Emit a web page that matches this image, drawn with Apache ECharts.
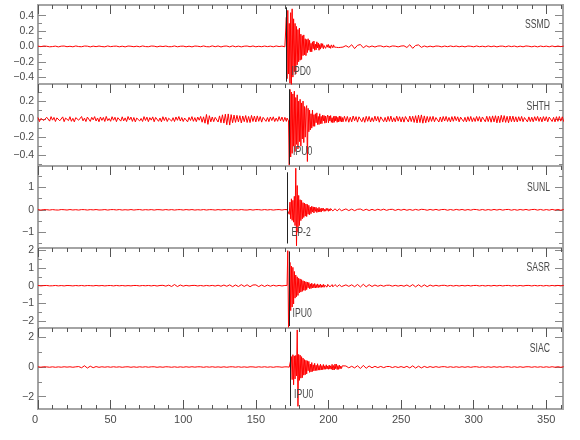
<!DOCTYPE html>
<html><head><meta charset="utf-8">
<script src="https://cdn.jsdelivr.net/npm/echarts@6/dist/echarts.min.js"></script>
<style>html,body{margin:0;padding:0;background:#fff}#c{width:580px;height:440px}</style>
</head><body><div id="c"></div>
<script>
// ---------------- data ----------------
const stations = ['SSMD','SHTH','SUNL','SASR','SIAC'];
const phases   = ['IPD0','IPU0','EP-2','IPU0','IPU0'];
const pickTimes = [170.8, 172.8, 171.7, 172.8, 174.0];
const yMins = [-0.49, -0.52, -1.70, -2.38, -2.83];
const yMaxs = [ 0.54,  0.39,  1.95,  2.12,  2.63];
const yMajorTicks = [[-0.4,-0.2,0,0.2,0.4],[-0.4,-0.2,0,0.2],[-1,0,1],[-2,-1,0,1,2],[-2,0,2]];
const yMinorTicks = [[-0.3,-0.1,0.1,0.3],[-0.5,-0.3,-0.1,0.1,0.3],[-1.5,-0.5,0.5,1.5],[-1.5,-0.5,0.5,1.5],[-1,1]];
const xMajorTicks = [0,50,100,150,200,250,300,350];
const xMinorTicks = [0,10,20,30,40,50,60,70,80,90,100,110,120,130,140,150,160,170,180,190,200,210,220,230,240,250,260,270,280,290,300,310,320,330,340,350,360];

// SSMD  (quiet: t=0..170 step 2; event: t=170.5..210 step 0.5; coda: t=212..362 step 2)
const ssmdQuiet = [0.004,-0.003,0.005,0.002,-0.005,-0.002,0.004,-0.006,0.003,0.005,
-0.004,0.002,-0.005,0.006,-0.002,-0.004,0.005,0.003,-0.006,0.004,
-0.003,0.005,-0.002,-0.005,0.006,-0.003,0.002,0.004,-0.005,0.003,
-0.006,0.005,0.002,-0.004,0.003,-0.005,0.006,-0.002,-0.004,0.005,
0.003,-0.006,0.004,-0.002,0.005,-0.004,-0.003,0.006,-0.005,0.002,
0.004,-0.005,0.003,-0.006,0.005,0.002,-0.004,0.006,-0.003,-0.005,
0.007,-0.004,0.006,-0.007,0.003,0.005,-0.006,0.007,-0.005,0.004,
-0.006,0.003,0.005,-0.004,0.006,-0.005,0.002,-0.004,0.005,-0.003,
0.004,-0.005,0.006,-0.002,0.004,-0.005];
const ssmdEvent = [0.01,0.38,-0.42,0.47,-0.36,0.3,-0.48,0.44,-0.5,0.49,
-0.4,0.36,-0.33,0.3,-0.36,0.26,-0.24,0.22,-0.2,0.24,
-0.18,0.16,-0.17,0.14,-0.12,0.15,-0.11,0.1,-0.12,0.09,
-0.08,0.1,-0.05,0.08,-0.07,0.04,-0.07,0.06,-0.03,0.07,
-0.05,0.03,-0.045,0.06,-0.02,0.045,-0.05,0.025,-0.035,0.04,
-0.015,0.035,-0.03,0.012,0.03,-0.025,-0.03,0.022,-0.01,0.025,
-0.02,0.008,-0.025,0.02,0.012,-0.018,0.02,-0.008,-0.016,0.015,
-0.012,0.006,0.014,-0.015,0.01,-0.006,-0.012,0.01,0.004,-0.009];
const ssmdCoda = [0.01,-0.012,0.022,-0.028,0.014,0.025,-0.018,0.01,-0.009,0.006,
-0.008,0.005,0.007,-0.006,0.004,-0.007,0.006,0.003,-0.006,0.005,
0.008,-0.014,0.022,-0.025,0.012,0.02,-0.012,0.006,-0.007,0.004,
-0.006,0.005,0.003,-0.006,0.005,-0.004,0.006,-0.003,0.005,-0.005,
0.004,-0.006,0.005,0.002,-0.005,0.006,-0.004,0.003,-0.005,0.006,
-0.004,0.005,-0.006,0.003,0.004,-0.005,0.006,-0.003,0.005,-0.006,
0.004,-0.005,0.006,0.002,-0.005,0.004,-0.006,0.005,-0.003,0.004,
-0.005,0.006,-0.004,0.005,-0.003,0.004];

// SHTH  (quiet: t=0..170 step 1; event: t=170.5..210 step 0.5; coda: t=211..362 step 1)
const shthQuiet = [0.018,-0.027,0.008,0.024,-0.015,-0.029,0.021,0.006,-0.022,0.028,
-0.011,0.019,-0.026,0.014,0.03,-0.018,-0.007,0.025,-0.028,0.012,
0.022,-0.016,0.027,-0.024,0.009,-0.03,0.017,0.026,-0.012,-0.023,
0.029,-0.019,0.011,-0.027,0.023,0.015,-0.025,0.02,-0.008,0.028,
-0.021,0.013,-0.029,0.024,-0.014,0.019,-0.026,0.03,-0.017,0.007,
-0.024,0.027,-0.012,0.021,-0.028,0.016,0.009,-0.022,0.026,-0.019,
0.014,-0.027,0.029,-0.01,0.023,-0.025,0.018,-0.03,0.012,0.026,
-0.02,0.008,-0.026,0.028,-0.015,0.022,-0.028,0.017,-0.011,0.025,
-0.029,0.019,0.032,-0.024,0.013,-0.03,0.027,-0.016,0.021,-0.026,
0.01,0.028,-0.022,0.016,-0.027,0.024,-0.013,0.029,-0.021,0.018,
-0.026,0.012,0.025,-0.03,0.02,-0.015,0.028,-0.024,0.017,-0.028,
0.023,-0.012,0.03,-0.034,0.026,-0.045,0.052,-0.058,0.038,-0.03,
0.024,-0.028,0.02,0.03,-0.032,0.036,-0.04,0.048,-0.044,0.055,
-0.062,0.058,-0.066,0.05,-0.04,0.045,-0.036,0.042,-0.03,0.038,
-0.042,0.035,-0.028,0.04,-0.037,0.03,-0.038,0.041,-0.026,0.034,
-0.031,0.036,-0.024,0.029,-0.033,0.02,0.027,-0.025,0.018,-0.028,
0.024,-0.016,0.026,-0.027,0.012,-0.024,0.028,-0.019,0.023,-0.027,
0.02];
const shthEvent = [0.02,-0.025,0.012,0.022,-0.02,-0.51,0.33,-0.42,0.3,-0.38,
0.28,-0.3,0.31,-0.36,0.24,-0.28,0.27,-0.33,0.2,-0.25,
0.22,-0.3,0.18,-0.22,0.2,-0.26,0.14,-0.2,0.12,0.15,
-0.47,0.12,-0.14,0.1,-0.12,0.06,-0.1,0.1,-0.08,0.05,
-0.08,0.06,-0.04,0.07,-0.06,0.03,-0.06,0.06,-0.05,0.03,
-0.05,0.045,-0.02,0.04,-0.045,0.035,-0.04,0.02,0.045,-0.04,
0.035,-0.02,0.04,-0.035,0.015,-0.04,0.03,-0.035,0.035,-0.02,
0.03,-0.035,0.02,-0.03,0.035,-0.025,0.03,-0.03,0.018,-0.03];
const shthCoda = [0.032,-0.026,0.03,-0.034,0.021,-0.03,0.035,-0.018,0.028,-0.033,
0.026,0.034,-0.029,0.02,-0.035,0.031,-0.024,0.03,-0.032,0.017,
-0.027,0.033,-0.021,0.029,-0.034,0.025,0.031,-0.028,0.019,-0.032,
0.03,-0.024,0.034,-0.03,0.016,-0.029,0.033,-0.022,0.027,-0.031,
0.025,-0.033,0.029,0.02,-0.031,0.034,-0.027,0.032,-0.036,0.038,
-0.042,0.044,-0.038,0.047,-0.045,0.036,-0.04,0.03,-0.033,0.028,
-0.025,0.031,-0.029,0.018,0.027,-0.032,0.024,-0.03,0.029,-0.021,
0.03,-0.026,0.019,-0.031,0.028,-0.024,0.031,-0.017,0.026,-0.03,
0.022,0.029,-0.027,0.02,-0.031,0.027,-0.023,0.03,-0.028,0.016,
-0.026,0.03,-0.022,0.028,-0.031,0.024,0.019,-0.029,0.032,-0.027,
0.03,-0.034,0.036,-0.03,0.038,-0.041,0.035,-0.039,0.042,-0.033,
0.039,-0.036,0.031,-0.04,0.034,-0.028,0.033,-0.03,0.026,-0.031,
0.027,-0.022,0.03,-0.028,0.018,0.026,-0.03,0.025,-0.027,0.021,
-0.029,0.027,-0.018,0.03,-0.025,0.022,-0.03,0.028,-0.02,0.027,
-0.029,0.023,0.028,-0.026,0.02,-0.03,0.027,-0.024,0.029,-0.022,
0.026,-0.028];

// SUNL
const sunlQuiet = [0.008,-0.012,0.01,0.005,-0.011,0.009,-0.006,-0.012,0.011,0.004,
-0.01,0.012,-0.008,0.006,-0.012,0.01,0.007,-0.011,0.009,-0.005,
0.012,-0.009,-0.004,0.011,-0.012,0.008,0.01,-0.007,0.012,-0.011,
0.005,-0.009,0.012,-0.01,0.006,0.011,-0.012,0.008,-0.006,0.01,
-0.012,0.009,0.004,-0.011,0.012,-0.008,0.01,-0.012,0.006,0.009,
-0.01,0.012,-0.007,0.011,-0.012,0.005,-0.009,0.012,-0.01,0.008,
0.006,-0.012,0.01,-0.009,0.012,-0.005,0.011,-0.012,0.008,-0.01,
0.012,-0.006,-0.01,0.011,-0.012,0.009,0.007,-0.011,0.012,-0.008,
0.01,-0.012,0.006,0.011,-0.01,0.012];
const sunlEvent = [0.01,-0.012,0.008,-0.01,0.012,-0.2,0.34,-0.4,0.49,-0.47,
0.42,-0.55,0.6,-0.7,1.85,-1.6,1.08,-1.0,0.64,-0.7,
0.45,-0.48,0.42,-0.4,0.32,-0.34,0.3,-0.28,0.26,-0.3,
0.24,-0.2,0.2,-0.22,0.12,-0.17,0.16,-0.1,0.13,-0.14,
0.12,-0.07,0.11,-0.12,0.06,-0.1,0.11,-0.09,0.05,-0.1,
0.08,-0.04,0.07,-0.07,0.03,-0.06,0.065,-0.03,0.06,-0.065,
0.04,-0.05,0.055,-0.02,0.05,-0.05,0.03,-0.045,0.045,-0.02,
0.04,-0.045,0.02,-0.04,0.04,-0.015,0.035,-0.04,0.025,-0.035];
const sunlCoda = [0.04,-0.035,0.03,-0.038,0.022,0.034,-0.03,0.026,-0.032,0.02,
-0.028,0.025,-0.018,0.027,-0.024,0.015,0.022,-0.026,0.02,-0.017,
0.023,-0.02,0.014,-0.022,0.019,-0.016,0.021,0.012,-0.02,0.017,
-0.015,0.019,-0.018,0.012,0.016,-0.019,0.014,-0.017,0.018,-0.011,
0.016,-0.018,0.013,-0.016,0.018,0.01,-0.017,0.015,-0.018,0.012,
-0.016,0.017,-0.012,0.018,-0.015,0.011,0.016,-0.017,0.013,-0.018,
0.015,-0.012,0.017,-0.016,0.011,0.018,-0.014,0.016,-0.017,0.012,
-0.016,0.018,-0.013,0.015,-0.017,0.014];

// SASR
const sasrQuiet = [0.01,-0.013,0.006,0.012,-0.01,-0.005,0.013,-0.011,0.008,-0.013,
0.012,0.005,-0.012,0.01,-0.007,0.013,-0.012,0.009,0.004,-0.011,
0.013,-0.009,0.011,-0.013,0.006,0.01,-0.012,0.013,-0.008,0.011,
-0.013,0.007,-0.01,0.012,0.009,-0.013,0.011,-0.006,0.013,-0.012,
0.015,-0.018,0.012,0.02,-0.024,0.03,-0.045,0.065,-0.05,0.038,
-0.025,0.018,-0.014,0.012,0.016,-0.015,0.013,-0.018,0.014,-0.012,
0.016,-0.02,0.024,-0.03,0.036,-0.032,0.045,-0.055,0.04,-0.05,
0.058,-0.042,0.05,-0.06,0.038,0.046,-0.052,0.04,-0.044,0.034,
-0.03,0.026,-0.02,0.016,-0.014,0.012];
const sasrEvent = [0.01,-0.01,0.012,1.97,-2.34,-0.8,1.31,-1.4,1.1,-1.2,
1.03,-1.03,0.8,-0.7,0.6,-0.62,0.5,-0.55,0.42,-0.4,
0.38,-0.36,0.34,-0.32,0.28,-0.26,0.25,-0.27,0.22,-0.22,
0.2,-0.12,0.18,-0.17,0.1,-0.16,0.14,-0.13,0.08,-0.12,
0.12,-0.13,0.06,-0.11,0.1,-0.11,0.05,-0.09,0.09,-0.1,
0.04,-0.08,0.08,-0.09,0.03,-0.08,0.07,-0.08,0.075,-0.03,
0.07,-0.07,0.025,-0.07,0.06,-0.065,0.03,-0.06,0.06,-0.02,
0.055,-0.055,0.02,-0.055,0.05,-0.05,0.02,-0.05,0.045,-0.05];
const sasrCoda = [0.045,-0.038,0.05,-0.06,0.068,-0.075,0.08,-0.065,0.058,-0.045,
0.038,-0.032,0.028,-0.03,0.022,0.026,-0.027,0.021,-0.024,0.02,
-0.03,0.038,-0.05,0.06,-0.066,0.052,-0.062,0.048,-0.055,0.036,
-0.028,0.022,-0.02,0.017,0.021,-0.019,0.016,-0.02,0.015,-0.018,
0.016,-0.014,0.018,-0.016,0.012,0.015,-0.017,0.014,-0.016,0.012,
-0.015,0.016,-0.012,0.017,-0.014,0.011,0.015,-0.016,0.013,-0.015,
0.014,-0.016,0.012,0.015,-0.014,0.016,-0.011,0.014,-0.016,0.013,
-0.014,0.015,-0.012,0.016,-0.013,0.014];

// SIAC
const siacQuiet = [0.015,-0.012,0.018,0.007,-0.016,0.013,-0.018,0.01,-0.014,0.017,
-0.008,0.015,-0.016,0.012,0.03,-0.05,0.085,-0.07,0.055,-0.045,
0.03,-0.02,0.016,-0.012,0.017,-0.015,0.018,-0.011,0.014,-0.018,
0.009,0.016,-0.017,0.013,-0.018,0.015,-0.01,0.018,-0.014,0.012,
0.016,-0.018,0.011,-0.015,0.018,0.008,-0.016,0.014,-0.018,0.012,
-0.015,0.017,-0.012,0.018,-0.009,0.015,0.013,-0.018,0.016,-0.011,
0.018,-0.014,0.01,-0.017,0.015,-0.018,0.012,0.016,-0.013,0.018,
-0.016,0.011,-0.018,0.014,0.009,-0.017,0.016,-0.012,0.018,-0.015,
0.013,-0.018,0.016,0.01,-0.014,0.012];
const siacEvent = [0.01,-0.012,0.01,-0.01,0.012,-0.01,0.01,-0.015,0.7,-0.85,
0.83,-1.2,0.75,-0.8,0.78,-0.6,2.5,-2.65,0.85,-0.9,
0.8,-0.75,0.7,-0.72,0.6,-0.55,0.5,-0.52,0.45,-0.46,
0.42,-0.25,0.38,-0.36,0.2,-0.33,0.3,-0.3,0.15,-0.26,
0.25,-0.24,0.12,-0.24,0.22,-0.21,0.1,-0.21,0.19,-0.2,
0.09,-0.18,0.17,-0.16,0.08,-0.15,0.15,-0.14,0.07,-0.15,
0.13,-0.14,0.08,-0.15,0.18,-0.2,0.1,-0.2,0.2,-0.12,
0.19,-0.17,0.09,-0.16,0.13,-0.12,0.06,-0.1,0.08,-0.05];
const siacCoda = [0.07,-0.055,0.05,-0.06,0.085,-0.1,0.11,-0.085,0.07,-0.05,
0.045,-0.038,0.04,-0.042,0.03,0.036,-0.035,0.028,-0.032,0.03,
-0.035,0.045,-0.06,0.08,-0.07,0.055,-0.06,0.042,-0.035,0.03,
-0.028,0.025,-0.022,0.018,0.024,-0.021,0.02,-0.023,0.017,-0.022,
0.02,-0.018,0.022,-0.02,0.015,0.019,-0.021,0.018,-0.02,0.016,
-0.019,0.021,-0.016,0.02,-0.018,0.014,0.019,-0.02,0.017,-0.021,
0.018,-0.02,0.015,0.019,-0.017,0.02,-0.014,0.018,-0.02,0.016,
-0.018,0.02,-0.015,0.019,-0.017,0.018];

// sampling of each trace segment: [start time, step]
const traces = [
  {quiet: ssmdQuiet, qs:[0,2],  event: ssmdEvent, es:[170.5,0.5], coda: ssmdCoda, cs:[212,2]},
  {quiet: shthQuiet, qs:[0,1],  event: shthEvent, es:[170.5,0.5], coda: shthCoda, cs:[211,1]},
  {quiet: sunlQuiet, qs:[0,2],  event: sunlEvent, es:[170.5,0.5], coda: sunlCoda, cs:[212,2]},
  {quiet: sasrQuiet, qs:[0,2],  event: sasrEvent, es:[170.5,0.5], coda: sasrCoda, cs:[212,2]},
  {quiet: siacQuiet, qs:[0,2],  event: siacEvent, es:[170.5,0.5], coda: siacCoda, cs:[212,2]}
];

// ---------------- layout / style ----------------
const X_MAX = 361.5;
const GRID_LEFT = 38, GRID_RIGHT = 17;
const gridTops = [5, 84, 166, 248, 328];
const gridHeights = [79, 82, 82, 80, 81];
const pickExtent = [[0.51,-0.46],[0.33,-0.50],[1.67,-1.50],[1.93,-2.27],[2.38,-2.63]];
const FONT = "'Liberation Sans',Arial,sans-serif";
const TXT = '#4a4a4a';
const stationPos = [[550,25],[550,107],[550,187.5],[550,267.5],[550,348.5]];
const phasePos = [[291.5,71.5],[293,151.5],[291.5,233],[292.5,314],[294,394.5]];

function seg(vals, s) { return vals.map((v, k) => [s[0] + k * s[1], v]); }
function minus(s) { return s.replace('-', '\u2212'); }

const grids = [], xAxes = [], yAxes = [], series = [], graphics = [];
for (let i = 0; i < 5; i++) {
  grids.push({left: GRID_LEFT, right: GRID_RIGHT, top: gridTops[i], height: gridHeights[i],
    show: true, borderColor: '#a4a4a4', borderWidth: 2, backgroundColor: 'transparent'});
  const xa = (pos, vals, len, labels) => ({
    type: 'value', gridIndex: i, min: 0, max: X_MAX, position: pos,
    axisLine: {show: false, onZero: false}, splitLine: {show: false},
    axisTick: {show: true, inside: true, length: len, customValues: vals, lineStyle: {color: '#555', width: 1}},
    axisLabel: labels ? {show: true, customValues: xMajorTicks, margin: 5, color: TXT, fontSize: 11,
      fontFamily: FONT, alignMinLabel: 'right', formatter: v => String(Math.round(v))} : {show: false}
  });
  xAxes.push(xa('top', xMinorTicks, 4, false));
  xAxes.push(xa('top', xMajorTicks, 9, false));
  if (i === 4) {
    xAxes.push(xa('bottom', xMinorTicks, 4, false));
    xAxes.push(xa('bottom', xMajorTicks, 9, true));
  }
  const ya = (pos, vals, len, labels) => ({
    type: 'value', gridIndex: i, min: yMins[i], max: yMaxs[i], position: pos,
    axisLine: {show: false, onZero: false}, splitLine: {show: false},
    axisTick: {show: true, inside: true, length: len, customValues: vals, lineStyle: {color: '#888', width: 1}},
    axisLabel: labels ? {show: true, customValues: yMajorTicks[i], margin: 4, color: TXT, fontSize: 10.5,
      fontFamily: FONT, formatter: v => minus(i < 2 ? v.toFixed(1) : String(Math.round(v)))} : {show: false}
  });
  const yBase = yAxes.length;
  yAxes.push(ya('left', yMajorTicks[i], 8, true));
  yAxes.push(ya('left', yMinorTicks[i], 4, false));
  yAxes.push(ya('right', yMajorTicks[i], 8, false));
  yAxes.push(ya('right', yMinorTicks[i], 4, false));

  const tr = traces[i];
  const data = seg(tr.quiet, tr.qs).concat(seg(tr.event, tr.es), seg(tr.coda, tr.cs));
  series.push({
    type: 'line', name: stations[i], xAxisIndex: i * 2, yAxisIndex: yBase,
    data: data, showSymbol: false, symbol: 'none', animation: false, clip: true,
    lineStyle: {color: '#ff0000', width: 1}, z: 2,
    markLine: {silent: true, symbol: ['none','none'], animation: false,
      label: {show: false}, lineStyle: {color: '#222', width: 1, type: 'solid'},
      data: [[{coord: [pickTimes[i], pickExtent[i][0]]}, {coord: [pickTimes[i], pickExtent[i][1]]}]]}
  });
  graphics.push({type: 'text', x: stationPos[i][0], y: stationPos[i][1], scaleX: 0.72, z: 10,
    style: {text: stations[i], align: 'right', verticalAlign: 'middle', font: '12px ' + FONT, fill: TXT}});
  graphics.push({type: 'text', x: phasePos[i][0], y: phasePos[i][1], scaleX: 0.72, z: 10,
    style: {text: phases[i], align: 'left', verticalAlign: 'middle', font: '12px ' + FONT, fill: TXT}});
}

const chart = echarts.init(document.getElementById('c'), null, {renderer: 'canvas'});
chart.setOption({
  animation: false,
  backgroundColor: '#ffffff',
  grid: grids, xAxis: xAxes, yAxis: yAxes, series: series, graphic: graphics
});
</script></body></html>
